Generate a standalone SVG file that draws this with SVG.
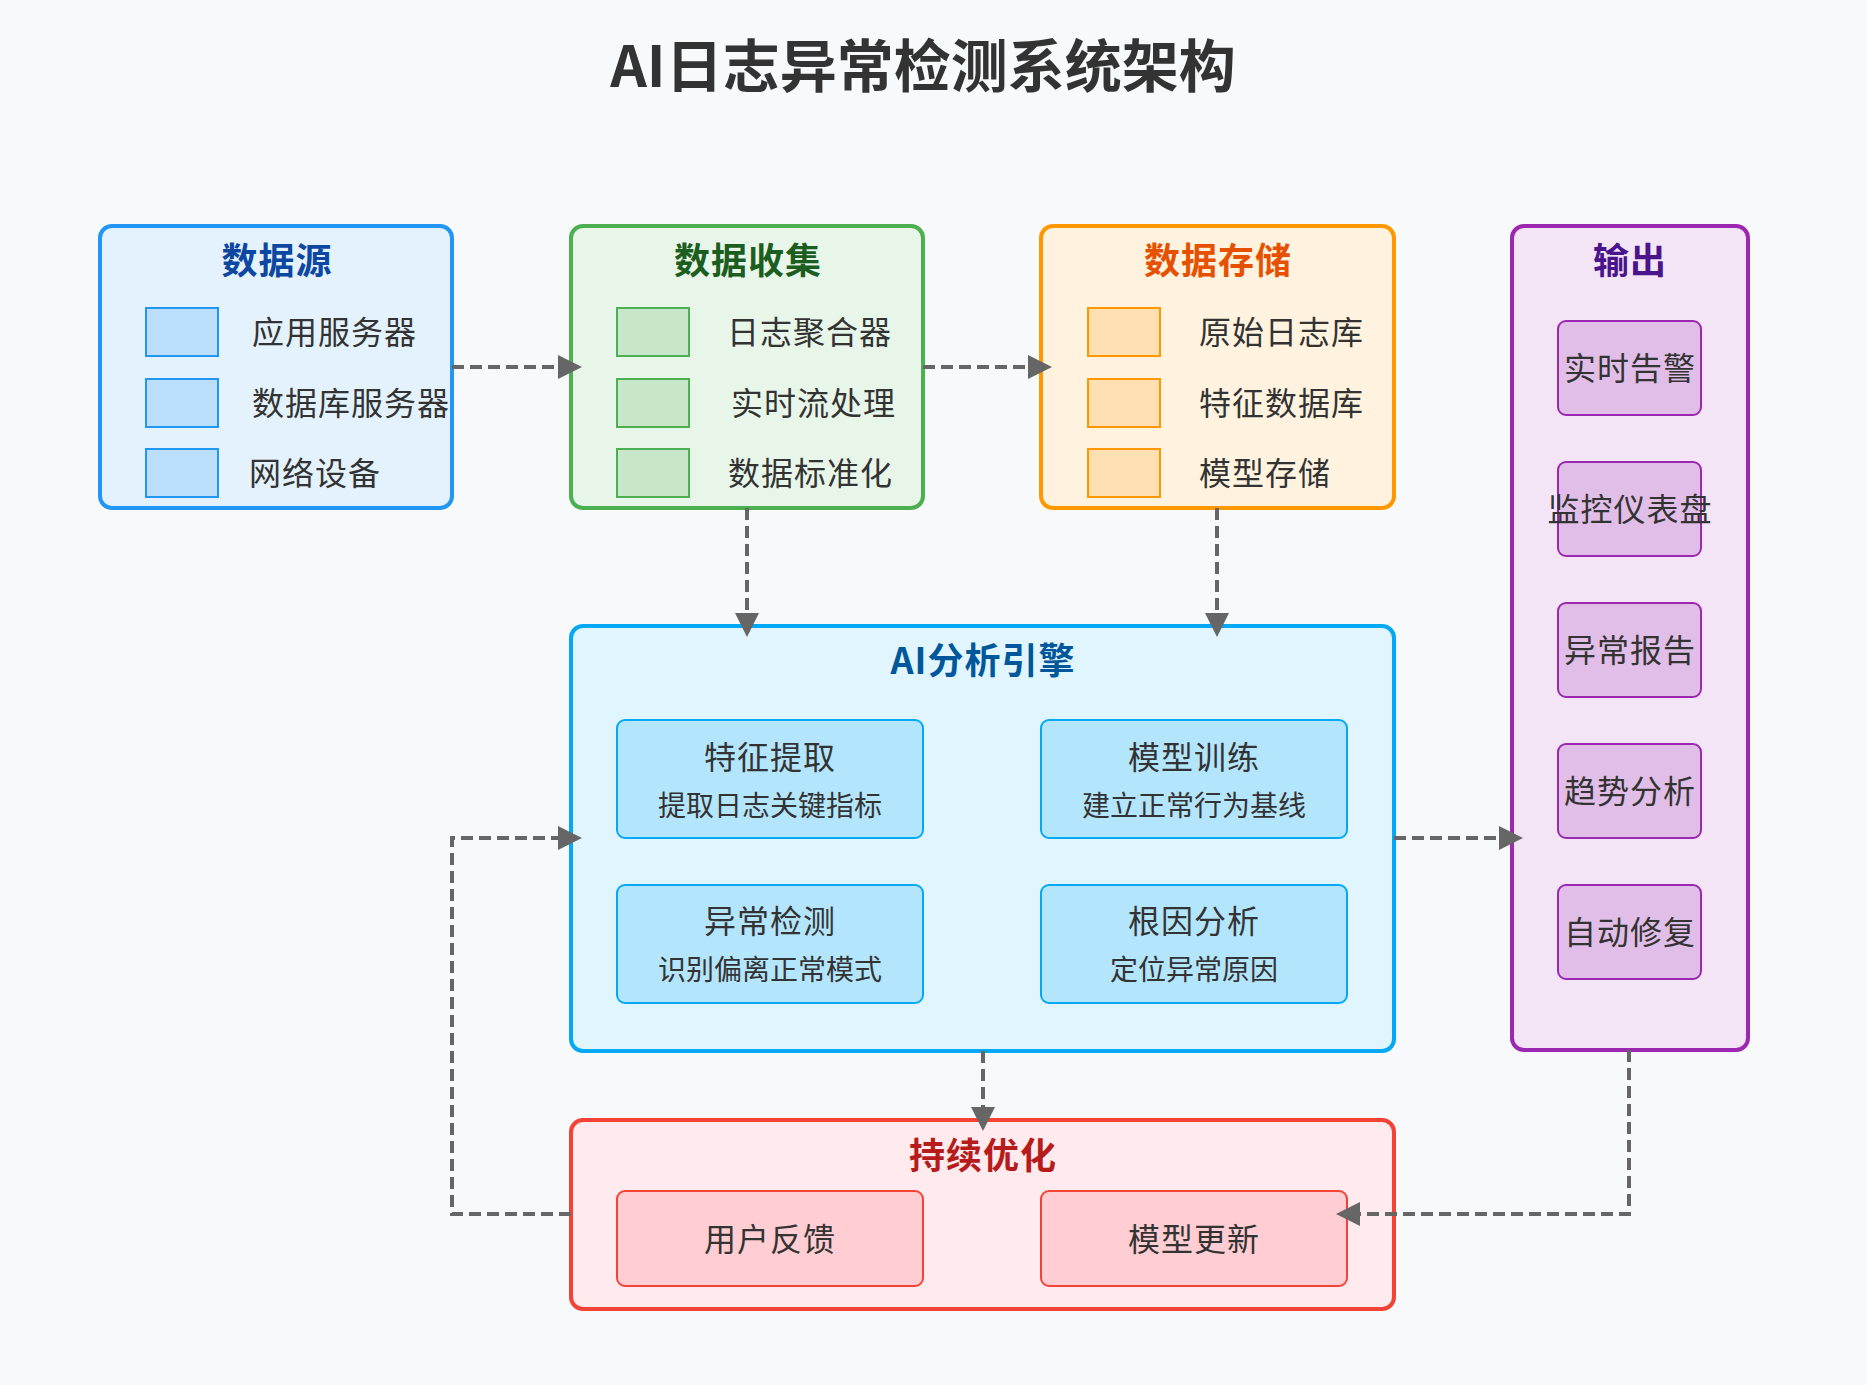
<svg xmlns="http://www.w3.org/2000/svg" width="1867" height="1385" viewBox="0 0 1867 1385">
  <defs>
    <marker id="arrow" markerUnits="userSpaceOnUse" markerWidth="24" markerHeight="24" refX="13" refY="12" orient="auto">
      <path d="M0,0 L24,12 L0,24 Z" fill="#666666"/>
    </marker>
    <style>
      text { font-family: "Noto Sans CJK SC", "Noto Sans", sans-serif; fill: #333333; }
      .title { font-size: 57px; font-weight: bold; text-anchor: middle; }
      .head { font-size: 36px; font-weight: bold; text-anchor: middle; letter-spacing: 1px; }
      .lbl { font-size: 32px; letter-spacing: 1px; }
      .mid { font-size: 32px; text-anchor: middle; letter-spacing: 1px; }
      .sub { font-size: 28px; text-anchor: middle; }
      .box { stroke-width: 4; }
      .chip { stroke-width: 2; }
      .conn { fill: none; stroke: #666666; stroke-width: 4; stroke-dasharray: 12 6; marker-end: url(#arrow); }
    </style>
  </defs>

  <rect x="0" y="0" width="1867" height="1385" fill="#f8f9fa"/>

  <text class="title" x="923" y="87">AI日志异常检测系统架构</text>

  <!-- data sources -->
  <g id="data-source">
    <rect class="box" x="100" y="226" width="352" height="282" rx="12" fill="#e3f2fd" stroke="#2196f3"/>
    <text class="head" x="277" y="274" style="fill:#0d47a1">数据源</text>
    <rect class="chip" x="146" y="308" width="72" height="48" fill="#bbdefb" stroke="#2196f3"/>
    <rect class="chip" x="146" y="379" width="72" height="48" fill="#bbdefb" stroke="#2196f3"/>
    <rect class="chip" x="146" y="449" width="72" height="48" fill="#bbdefb" stroke="#2196f3"/>
    <text class="lbl" x="252" y="344">应用服务器</text>
    <text class="lbl" x="252" y="415">数据库服务器</text>
    <text class="lbl" x="249" y="485">网络设备</text>
  </g>

  <!-- data collection -->
  <g id="data-collection">
    <rect class="box" x="571" y="226" width="352" height="282" rx="12" fill="#e8f5e9" stroke="#4caf50"/>
    <text class="head" x="748" y="274" style="fill:#1b5e20">数据收集</text>
    <rect class="chip" x="617" y="308" width="72" height="48" fill="#c8e6c9" stroke="#4caf50"/>
    <rect class="chip" x="617" y="379" width="72" height="48" fill="#c8e6c9" stroke="#4caf50"/>
    <rect class="chip" x="617" y="449" width="72" height="48" fill="#c8e6c9" stroke="#4caf50"/>
    <text class="lbl" x="727" y="344">日志聚合器</text>
    <text class="lbl" x="731" y="415">实时流处理</text>
    <text class="lbl" x="728" y="485">数据标准化</text>
  </g>

  <!-- data storage -->
  <g id="data-storage">
    <rect class="box" x="1041" y="226" width="353" height="282" rx="12" fill="#fff3e0" stroke="#ff9800"/>
    <text class="head" x="1218" y="274" style="fill:#e65100">数据存储</text>
    <rect class="chip" x="1088" y="308" width="72" height="48" fill="#ffe0b2" stroke="#ff9800"/>
    <rect class="chip" x="1088" y="379" width="72" height="48" fill="#ffe0b2" stroke="#ff9800"/>
    <rect class="chip" x="1088" y="449" width="72" height="48" fill="#ffe0b2" stroke="#ff9800"/>
    <text class="lbl" x="1199" y="344">原始日志库</text>
    <text class="lbl" x="1199" y="415">特征数据库</text>
    <text class="lbl" x="1199" y="485">模型存储</text>
  </g>

  <!-- output -->
  <g id="output">
    <rect class="box" x="1512" y="226" width="236" height="824" rx="12" fill="#f3e5f5" stroke="#9c27b0"/>
    <text class="head" x="1630" y="274" style="fill:#4a148c">输出</text>
    <rect class="chip" x="1558" y="321" width="143" height="94" rx="8" fill="#e1bee7" stroke="#9c27b0"/>
    <rect class="chip" x="1558" y="462" width="143" height="94" rx="8" fill="#e1bee7" stroke="#9c27b0"/>
    <rect class="chip" x="1558" y="603" width="143" height="94" rx="8" fill="#e1bee7" stroke="#9c27b0"/>
    <rect class="chip" x="1558" y="744" width="143" height="94" rx="8" fill="#e1bee7" stroke="#9c27b0"/>
    <rect class="chip" x="1558" y="885" width="143" height="94" rx="8" fill="#e1bee7" stroke="#9c27b0"/>
    <text class="mid" x="1630" y="380">实时告警</text>
    <text class="mid" x="1630" y="521">监控仪表盘</text>
    <text class="mid" x="1630" y="662">异常报告</text>
    <text class="mid" x="1630" y="803">趋势分析</text>
    <text class="mid" x="1630" y="944">自动修复</text>
  </g>

  <!-- AI analysis engine -->
  <g id="ai-engine">
    <rect class="box" x="571" y="626" width="823" height="425" rx="12" fill="#e1f5fe" stroke="#03a9f4"/>
    <text class="head" x="983" y="674" style="fill:#01579b">AI分析引擎</text>
    <rect class="chip" x="617" y="720" width="306" height="118" rx="8" fill="#b3e5fc" stroke="#03a9f4"/>
    <rect class="chip" x="1041" y="720" width="306" height="118" rx="8" fill="#b3e5fc" stroke="#03a9f4"/>
    <rect class="chip" x="617" y="885" width="306" height="118" rx="8" fill="#b3e5fc" stroke="#03a9f4"/>
    <rect class="chip" x="1041" y="885" width="306" height="118" rx="8" fill="#b3e5fc" stroke="#03a9f4"/>
    <text class="mid" x="770" y="769">特征提取</text>
    <text class="sub" x="770" y="816">提取日志关键指标</text>
    <text class="mid" x="1194" y="769">模型训练</text>
    <text class="sub" x="1194" y="816">建立正常行为基线</text>
    <text class="mid" x="770" y="933">异常检测</text>
    <text class="sub" x="770" y="980">识别偏离正常模式</text>
    <text class="mid" x="1194" y="933">根因分析</text>
    <text class="sub" x="1194" y="980">定位异常原因</text>
  </g>

  <!-- continuous optimisation -->
  <g id="optimization">
    <rect class="box" x="571" y="1120" width="823" height="189" rx="12" fill="#ffebee" stroke="#f44336"/>
    <text class="head" x="983" y="1169" style="fill:#b71c1c">持续优化</text>
    <rect class="chip" x="617" y="1191" width="306" height="95" rx="8" fill="#ffcdd2" stroke="#f44336"/>
    <rect class="chip" x="1041" y="1191" width="306" height="95" rx="8" fill="#ffcdd2" stroke="#f44336"/>
    <text class="mid" x="770" y="1251">用户反馈</text>
    <text class="mid" x="1194" y="1251">模型更新</text>
  </g>

  <!-- connectors -->
  <g id="connectors">
    <path class="conn" d="M452,367 H571"/>
    <path class="conn" d="M923,367 H1041"/>
    <path class="conn" d="M747,508 V626"/>
    <path class="conn" d="M1217,508 V626"/>
    <path class="conn" d="M1394,838 H1512"/>
    <path class="conn" d="M571,1214 H452 V838 H571"/>
    <path class="conn" d="M983,1051 V1120"/>
    <path class="conn" d="M1629,1050 V1214 H1347"/>
  </g>
</svg>
